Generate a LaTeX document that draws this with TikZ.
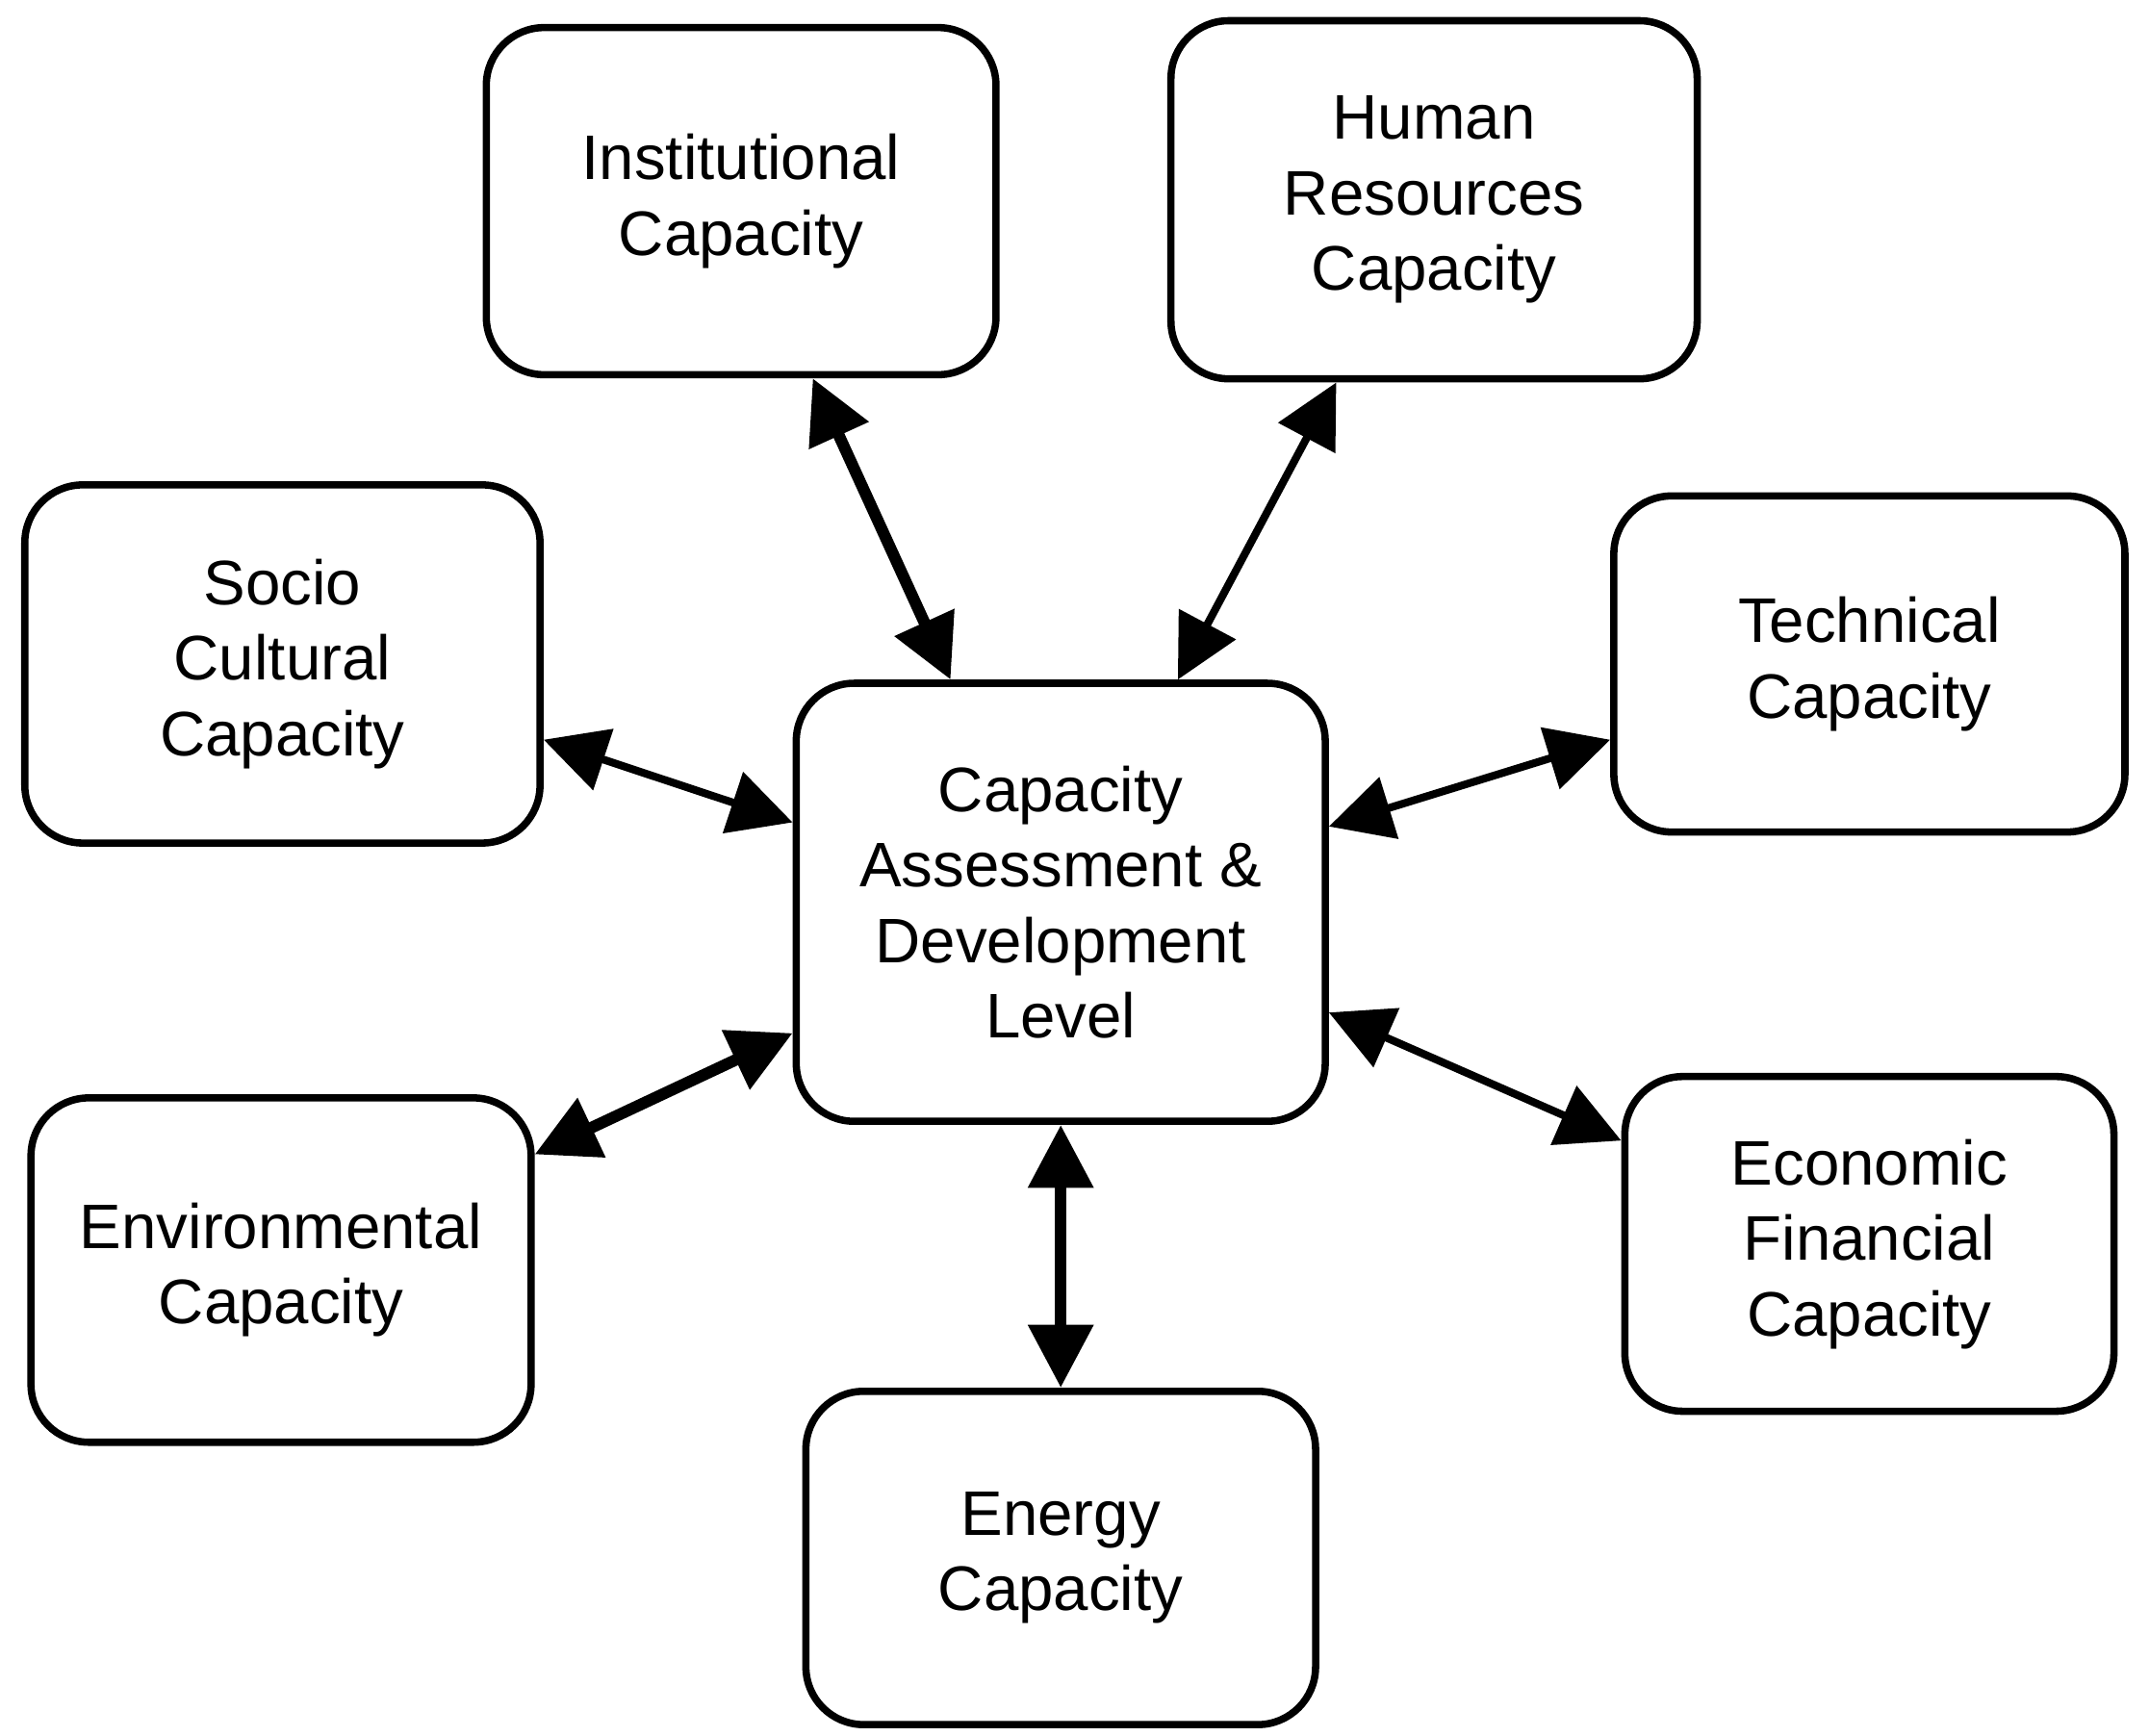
\documentclass[tikz,border=0pt]{standalone}
\usepackage{fontspec}
\setmainfont{Liberation Sans}
\usetikzlibrary{arrows.meta}
\tikzset{
  capbox/.style={draw,line width=1.5pt,rounded corners=0.42cm,align=center,
    font=\fontsize{13}{15.6}\selectfont,inner sep=0pt},
  link/.style={line width=2.4pt,{Triangle[length=13pt,width=13pt]}-{Triangle[length=13pt,width=13pt]}},
  thinlink/.style={line width=1.6pt,{Triangle[length=13pt,width=13pt]}-{Triangle[length=13pt,width=13pt]}}
}
\begin{document}
\begin{tikzpicture}
  \useasboundingbox (0,0) rectangle (15.6,-12.6);
  \node[capbox,minimum width=3.7cm,minimum height=2.52cm] (inst) at (5.38,-1.46) {Institutional\\Capacity};
  \node[capbox,minimum width=3.82cm,minimum height=2.6cm] (hr) at (10.41,-1.45) {Human\\Resources\\Capacity};
  \node[capbox,minimum width=3.74cm,minimum height=2.6cm] (soc) at (2.05,-4.82) {Socio\\Cultural\\Capacity};
  \node[capbox,minimum width=3.71cm,minimum height=2.44cm] (tech) at (13.57,-4.82) {Technical\\Capacity};
  \node[capbox,minimum width=3.84cm,minimum height=3.18cm] (cad) at (7.70,-6.55) {Capacity\\Assessment \&\\Development\\Level};
  \node[capbox,minimum width=3.63cm,minimum height=2.5cm] (env) at (2.04,-9.22) {Environmental\\Capacity};
  \node[capbox,minimum width=3.55cm,minimum height=2.43cm] (econ) at (13.57,-9.03) {Economic\\Financial\\Capacity};
  \node[capbox,minimum width=3.7cm,minimum height=2.42cm] (en) at (7.70,-11.31) {Energy\\Capacity};
  % links to the centre
  \draw[link] ([xshift=0.52cm]inst.south) -- ([xshift=-0.8cm]cad.north);
  \draw[thinlink] ([xshift=-0.71cm]hr.south) -- ([xshift=0.85cm]cad.north);
  \draw[thinlink] ([yshift=-0.55cm]soc.east) -- ([yshift=0.58cm]cad.west);
  \draw[thinlink] ([yshift=0.55cm]cad.east) -- ([yshift=-0.55cm]tech.west);
  \draw[link] ([yshift=0.84cm]env.east) -- ([yshift=-0.95cm]cad.west);
  \draw[thinlink] ([yshift=-0.8cm]cad.east) -- ([yshift=0.75cm]econ.west);
  \draw[link] (cad.south) -- (en.north);
\end{tikzpicture}
\end{document}
